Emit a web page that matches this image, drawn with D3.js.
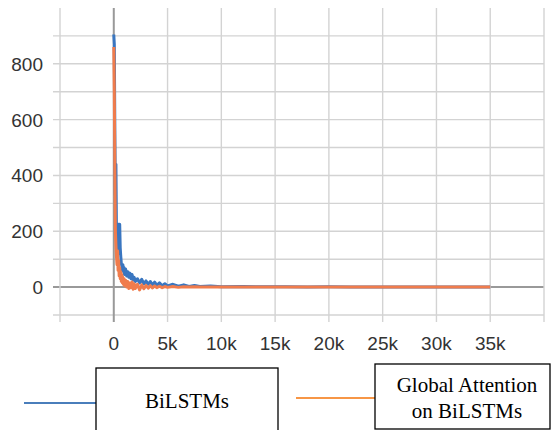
<!DOCTYPE html>
<body style="margin:0;background:#fff">
<svg width="555" height="430"></svg>
<script src="https://d3js.org/d3.v7.min.js"></script>
<script>

// training steps shared by both series
var steps = [0, 50, 100, 150, 200, 250, 300, 350, 400, 450,
  500, 550, 600, 650, 700, 750, 800, 850, 900, 950,
  1000, 1100, 1200, 1300, 1400, 1500, 1600, 1700, 1800, 1900,
  2000, 2200, 2400, 2600, 2800, 3000, 3200, 3400, 3600, 3800,
  4000, 4250, 4500, 4750, 5000, 5500, 6000, 6500, 7000, 7500,
  8000, 9000, 10000, 12000, 14000, 16000, 18000, 20000, 22000, 24000,
  26000, 28000, 30000, 32000, 34000, 35000];

var bilstm = [905, 870, 560, 330, 440, 200, 150, 145, 120, 225,
  160, 225, 140, 110, 85, 75, 60, 80, 55, 70,
  45, 65, 40, 55, 35, 50, 30, 45, 25, 35,
  20, 30, 15, 28, 12, 22, 10, 20, 8, 18,
  6, 15, 5, 12, 4, 10, 3, 8, 2, 6,
  2, 4, 1, 2, 1, 1, 0.5, 1, 0.5, 0.5,
  0.5, 0.5, 0.5, 0.5, 0.5, 0.5];

var attention = [860, 700, 420, 200, 150, 110, 80, 130, 60, 95,
  40, 70, 30, 55, 20, 45, 15, 35, 10, 30,
  5, 25, 0, 20, -5, 15, -2, 18, -8, 12,
  -5, 10, -10, 8, -6, 6, -4, 5, -3, 4,
  -2, 3, -2, 2, -1, 2, -1, 1, 0, 1,
  0, 0.5, 0, 0, 0, 0, 0, 0, 0, 0,
  0, 0, 0, 0, 0, 0];

var xTicks = [0, 5000, 10000, 15000, 20000, 25000, 30000, 35000];
var xGrid = [-5000, 0, 5000, 10000, 15000, 20000, 25000, 30000, 35000, 40000];
var yTicks = [0, 200, 400, 600, 800];
var yGrid = [-100, 0, 100, 200, 300, 400, 500, 600, 700, 800, 900];

var svg = d3.select("svg");

var x = d3.scaleLinear().domain([-5000, 40000]).range([60, 544]);
var y = d3.scaleLinear().domain([-100, 1000]).range([315, 8]);

// grid
svg.selectAll(".hg").data(yGrid).enter().append("line")
    .attr("x1", 53).attr("x2", 544)
    .attr("y1", function(d) { return y(d); })
    .attr("y2", function(d) { return y(d); })
    .attr("stroke", function(d) { return d == 0 ? "#999" : "#d3d3d3"; })
    .attr("stroke-width", function(d) { return d == 0 ? 2 : 1.4; });

svg.selectAll(".vg").data(xGrid).enter().append("line")
    .attr("y1", 8).attr("y2", 322)
    .attr("x1", function(d) { return x(d); })
    .attr("x2", function(d) { return x(d); })
    .attr("stroke", function(d) { return d == 0 ? "#999" : "#d3d3d3"; })
    .attr("stroke-width", function(d) { return d == 0 ? 2 : 1.4; });

// labels
svg.selectAll(".xl").data(xTicks).enter().append("text")
    .attr("x", function(d) { return x(d); })
    .attr("y", 350)
    .attr("text-anchor", "middle")
    .attr("font-family", "Arial, 'Liberation Sans', sans-serif")
    .attr("font-size", 19)
    .attr("fill", "#333")
    .text(function(d) { return d == 0 ? "0" : (d / 1000) + "k"; });

svg.selectAll(".yl").data(yTicks).enter().append("text")
    .attr("x", 43)
    .attr("y", function(d) { return y(d) + 7; })
    .attr("text-anchor", "end")
    .attr("font-family", "Arial, 'Liberation Sans', sans-serif")
    .attr("font-size", 19)
    .attr("fill", "#333")
    .text(function(d) { return d; });

// series
var line = d3.line()
    .x(function(d, i) { return x(steps[i]); })
    .y(function(d) { return y(d); });

svg.append("path")
    .datum(bilstm)
    .attr("fill", "none")
    .attr("stroke", "#3a76c0")
    .attr("stroke-width", 3)
    .attr("stroke-linejoin", "round")
    .attr("d", line);

svg.append("path")
    .datum(attention)
    .attr("fill", "none")
    .attr("stroke", "#f07c4c")
    .attr("stroke-width", 3)
    .attr("stroke-linejoin", "round")
    .attr("d", line);

// legend
var serif = "'Times New Roman', 'Liberation Serif', serif";

svg.append("line").attr("x1", 24).attr("x2", 96).attr("y1", 403).attr("y2", 403)
    .attr("stroke", "#4a7ebb").attr("stroke-width", 2);
svg.append("rect").attr("x", 96).attr("y", 368).attr("width", 182).attr("height", 80)
    .attr("fill", "#fff").attr("stroke", "#000").attr("stroke-width", 1.3);
svg.append("text").attr("x", 187).attr("y", 408).attr("text-anchor", "middle")
    .attr("font-family", serif).attr("font-size", 21).text("BiLSTMs");

svg.append("line").attr("x1", 296).attr("x2", 375).attr("y1", 398).attr("y2", 398)
    .attr("stroke", "#f79646").attr("stroke-width", 2);
svg.append("rect").attr("x", 375).attr("y", 364).attr("width", 175).attr("height", 65)
    .attr("fill", "#fff").attr("stroke", "#000").attr("stroke-width", 1.3);
svg.append("text").attr("x", 467).attr("y", 392).attr("text-anchor", "middle")
    .attr("font-family", serif).attr("font-size", 21).text("Global Attention");
svg.append("text").attr("x", 467).attr("y", 418).attr("text-anchor", "middle")
    .attr("font-family", serif).attr("font-size", 21).text("on BiLSTMs");

</script>
</body>
